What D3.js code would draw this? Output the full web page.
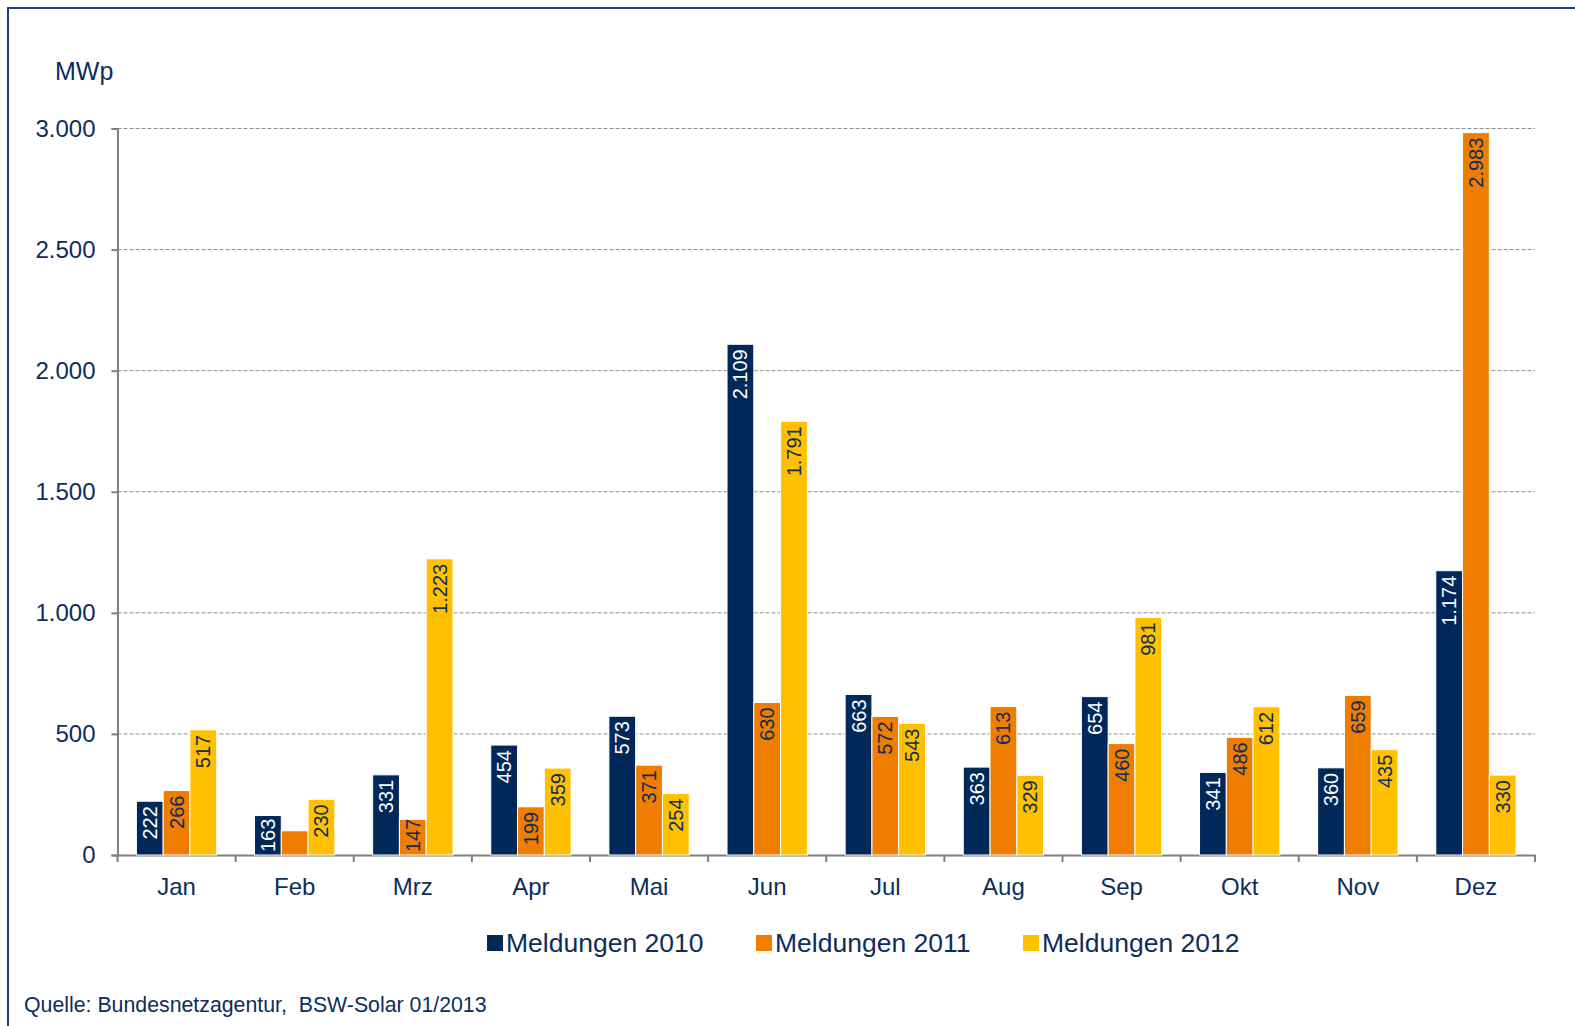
<!DOCTYPE html>
<html>
<head>
<meta charset="utf-8">
<script src="https://cdn.jsdelivr.net/npm/d3@7"></script>
<style>
body { margin: 0; background: #fff; }
text { font-family: "Liberation Sans", Arial, sans-serif; }
</style>
</head>
<body>
<svg id="chart"></svg>
<script>
var months = ["Jan","Feb","Mrz","Apr","Mai","Jun","Jul","Aug","Sep","Okt","Nov","Dez"];
var series = ["Meldungen 2010","Meldungen 2011","Meldungen 2012"];
var values2010 = [222,163,331,454,573,2109,663,363,654,341,360,1174];
var values2011 = [266,100,147,199,371,630,572,613,460,486,659,2983];
var values2012 = [517,230,1223,359,254,1791,543,329,981,612,435,330];
// Feb 2011 has no label in the original
var labels2011 = [266,null,147,199,371,630,572,613,460,486,659,2983];
var yTicks = [0,500,1000,1500,2000,2500,3000];

var colors = ["#00295a","#ef7d00","#ffc000"];
var labelColors = ["#ffffff","#0d2d5c","#0d2d5c"];
var textColor = "#0d2d5c";

var width = 1575, height = 1026;
var svg = d3.select("#chart").attr("width",width).attr("height",height);

// outer frame
svg.append("rect").attr("x",8).attr("y",8).attr("width",width).attr("height",height)
	.attr("fill","none").attr("stroke","#1f3f7a").attr("stroke-width",2);

var plotLeft = 117.5, plotRight = 1535, plotTop = 128.5, plotBottom = 855;

var x = d3.scaleBand().domain(months).range([plotLeft,plotRight]).paddingInner(0.32).paddingOuter(0.16);
var xOuter = d3.scaleBand().domain(months).range([plotLeft,plotRight]);
var xSub = d3.scaleBand().domain([0,1,2]).range([0,x.bandwidth()]);
var y = d3.scaleLinear().domain([0,3000]).range([plotBottom,plotTop]);

var fmt = d3.formatLocale({decimal:",",thousands:".",grouping:[3],currency:["","€"]}).format(",d");

// gridlines
svg.append("g").selectAll("line").data(yTicks.slice(1)).enter().append("line")
	.attr("x1",plotLeft).attr("x2",plotRight).attr("y1",d => y(d)).attr("y2",d => y(d))
	.attr("stroke","#8c8c8c").attr("stroke-width",1).attr("stroke-dasharray","4,2");

// y axis
var yAxis = svg.append("g").attr("transform","translate(" + plotLeft + ",0)")
	.call(d3.axisLeft(y).tickValues(yTicks).tickFormat(fmt).tickSize(6).tickPadding(16));
yAxis.select(".domain").attr("stroke","#808080").attr("stroke-width",2);
yAxis.selectAll(".tick line").attr("stroke","#808080").attr("stroke-width",2);
yAxis.selectAll("text").attr("fill",textColor).style("font-size","24px")
	.style("font-family","Liberation Sans, Arial, sans-serif");

// x axis
var xAxis = svg.append("g").attr("transform","translate(0," + plotBottom + ")")
	.call(d3.axisBottom(xOuter).tickSize(0).tickPadding(23));
xAxis.select(".domain").attr("stroke","#808080").attr("stroke-width",2);
xAxis.selectAll("text").attr("fill",textColor).style("font-size","24px")
	.style("font-family","Liberation Sans, Arial, sans-serif");
svg.append("g").selectAll("line").data(d3.range(months.length + 1)).enter().append("line")
	.attr("x1",i => plotLeft + i * xOuter.step()).attr("x2",i => plotLeft + i * xOuter.step())
	.attr("y1",plotBottom).attr("y2",plotBottom + 7)
	.attr("stroke","#808080").attr("stroke-width",2);

var data = [values2010, values2011, values2012];
var labelData = [values2010, labels2011, values2012];

for (var s = 0; s < 3; s++) {
	var rows = months.map((m,i) => ({m: m, s: s, v: data[s][i], label: labelData[s][i]}));
	var g = svg.append("g");
	g.selectAll("rect").data(rows).enter().append("rect")
		.attr("x",d => x(d.m) + xSub(d.s))
		.attr("y",d => y(d.v))
		.attr("width",xSub.bandwidth())
		.attr("height",d => plotBottom - y(d.v))
		.attr("fill",colors[s])
		.attr("stroke","#ffffff").attr("stroke-width",1);

	g.selectAll("text").data(rows.filter(d => d.label != null)).enter().append("text")
		.text(d => fmt(d.label))
		.attr("fill",labelColors[s])
		.attr("text-anchor","start")
		.style("font-size","20px")
		.each(function(d) {
			var cx = x(d.m) + xSub(d.s) + xSub.bandwidth() / 2;
			var w = this.getComputedTextLength();
			var barH = plotBottom - y(d.v);
			var yy = barH >= w + 10 ? y(d.v) + 5 + w : plotBottom - 3;
			d3.select(this).attr("transform","translate(" + (cx + 7) + "," + yy + ") rotate(-90)");
		});
}

// unit label
svg.append("text").text("MWp").attr("x",55).attr("y",80)
	.attr("fill",textColor).style("font-size","25px");

// legend
var legendX = [487, 756, 1023];
var lg = svg.append("g");
series.forEach(function(name, i) {
	lg.append("rect").attr("x",legendX[i]).attr("y",935).attr("width",16).attr("height",16).attr("fill",colors[i]);
	lg.append("text").text(name).attr("x",legendX[i] + 19).attr("y",952)
		.attr("fill",textColor).style("font-size","26.5px");
});

// source
svg.append("text").text("Quelle: Bundesnetzagentur,  BSW-Solar 01/2013")
	.attr("x",24).attr("y",1012).attr("fill",textColor).style("font-size","21.3px")
	.attr("xml:space","preserve").style("white-space","pre");
</script>
</body>
</html>
